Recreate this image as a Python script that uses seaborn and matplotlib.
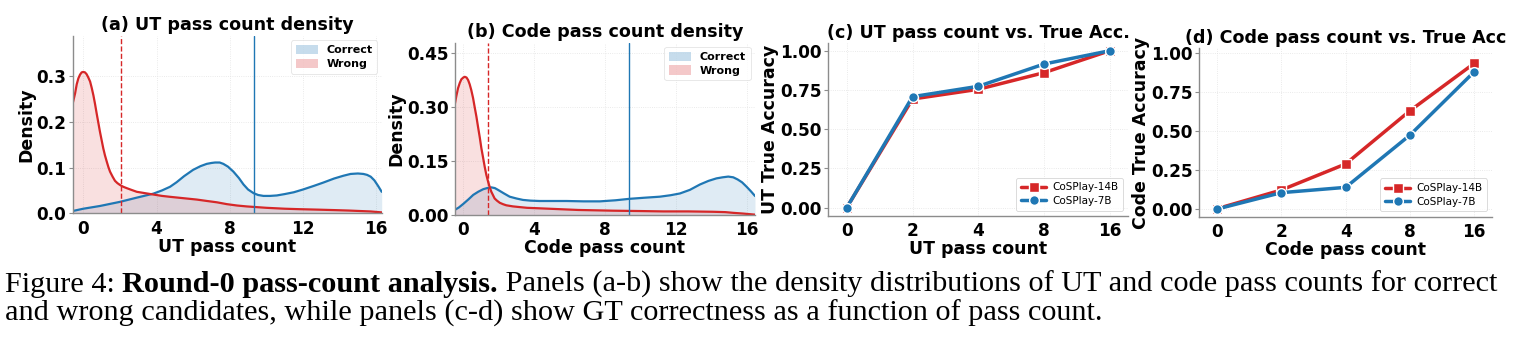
import numpy as np
import pandas as pd
import matplotlib
matplotlib.use("Agg")
import matplotlib.pyplot as plt
import seaborn as sns

# ---------------- data ----------------
# (a) UT pass count density (curve samples)
ut_wrong_x = [-0.58, -0.45, -0.36, -0.27, -0.18, -0.09, 0.0, 0.09, 0.18, 0.27, 0.37, 0.46, 0.55, 0.64,
              0.73, 0.82, 0.91, 1.0, 1.09, 1.18, 1.28, 1.37, 1.46, 1.6, 1.73, 1.86, 2.0, 2.18, 2.37,
              2.64, 2.92, 3.37, 3.83, 4.3, 4.74, 5.47, 6.2, 6.74, 7.3, 7.84, 8.4, 8.93, 10.0, 11.0,
              11.8, 12.8, 13.7, 14.5, 15.1, 15.7, 16.3]
ut_wrong_y = [0.240, 0.262, 0.282, 0.295, 0.303, 0.308, 0.309, 0.308, 0.304, 0.297, 0.288, 0.274, 0.258, 0.239,
              0.218, 0.198, 0.178, 0.160, 0.142, 0.127, 0.113, 0.101, 0.091, 0.080, 0.071, 0.066, 0.062, 0.058, 0.055,
              0.051, 0.047, 0.044, 0.041, 0.038, 0.036, 0.033, 0.030, 0.027, 0.024, 0.020, 0.017, 0.015, 0.012, 0.010,
              0.009, 0.008, 0.007, 0.006, 0.005, 0.004, 0.002]
ut_correct_x = [-0.58, 0.0, 0.91, 2.0, 2.9, 3.83, 4.3, 4.74, 5.1, 5.5, 6.0, 6.4, 6.74, 7.0, 7.2, 7.45, 7.65,
                7.9, 8.2, 8.5, 8.75, 9.0, 9.3, 9.55, 9.84, 10.2, 10.57, 11.0, 11.5, 12.0, 12.6, 13.1,
                13.7, 14.2, 14.6, 15.0, 15.3, 15.5, 15.7, 15.9, 16.1, 16.3]
ut_correct_y = [0.005, 0.010, 0.016, 0.025, 0.034, 0.043, 0.050, 0.058, 0.068, 0.081, 0.095, 0.103, 0.108, 0.110,
                0.111, 0.111, 0.108, 0.102, 0.091, 0.077, 0.063, 0.052, 0.044, 0.040, 0.038, 0.038, 0.039, 0.042,
                0.046, 0.052, 0.060, 0.067, 0.076, 0.082, 0.086, 0.087, 0.086, 0.084, 0.080, 0.072, 0.060, 0.047]
ut_wrong_mean = 2.05
ut_correct_mean = 9.3

# (b) Code pass count density
code_wrong_x = [-0.49, -0.4, -0.3, -0.2, -0.11, 0.0, 0.08, 0.18, 0.27, 0.36, 0.45, 0.55, 0.64, 0.74, 0.83,
                0.93, 1.02, 1.12, 1.21, 1.3, 1.4, 1.49, 1.58, 1.68, 1.77, 1.9, 2.06, 2.25, 2.43, 2.8, 3.19,
                3.6, 4.12, 5.07, 6.5, 8.47, 10.0, 11.3, 12.7, 14.1, 14.8, 15.25, 15.8, 16.48]
code_wrong_y = [0.306, 0.330, 0.353, 0.368, 0.378, 0.383, 0.385, 0.383, 0.376, 0.364, 0.348, 0.326, 0.301, 0.274, 0.246,
                0.216, 0.186, 0.159, 0.134, 0.112, 0.093, 0.078, 0.065, 0.055, 0.046, 0.040, 0.034, 0.030, 0.027, 0.024, 0.022,
                0.020, 0.019, 0.017, 0.014, 0.012, 0.011, 0.010, 0.010, 0.009, 0.008, 0.006, 0.004, 0.001]
code_correct_x = [-0.49, -0.25, 0.0, 0.3, 0.56, 0.85, 1.13, 1.35, 1.58, 1.78, 1.96, 2.3, 2.62, 3.0, 3.37,
                  3.8, 4.31, 5.07, 5.84, 6.8, 7.72, 8.6, 9.38, 10.2, 11.1, 11.7, 12.24, 12.8, 13.37, 13.85,
                  14.3, 14.65, 14.97, 15.25, 15.5, 15.75, 16.0, 16.25, 16.48]
code_correct_y = [0.014, 0.021, 0.031, 0.044, 0.056, 0.065, 0.072, 0.075, 0.077, 0.075, 0.070, 0.060, 0.051, 0.046, 0.042,
                  0.040, 0.039, 0.039, 0.039, 0.038, 0.038, 0.041, 0.045, 0.048, 0.051, 0.055, 0.060, 0.070, 0.085, 0.095,
                  0.102, 0.105, 0.107, 0.105, 0.099, 0.091, 0.079, 0.066, 0.053]
code_wrong_mean = 1.41
code_correct_mean = 9.38

# (c), (d) accuracy vs pass count
pass_counts = ["0", "2", "4", "8", "16"]
ut_acc_14b = [0.0, 0.692, 0.754, 0.860, 1.0]
ut_acc_7b = [0.0, 0.707, 0.773, 0.915, 1.0]
code_acc_14b = [0.004, 0.124, 0.291, 0.632, 0.936]
code_acc_7b = [0.002, 0.107, 0.141, 0.476, 0.882]
models = ["CoSPlay-14B", "CoSPlay-7B"]

caption_prefix = "Figure 4: "
caption_bold = "Round-0 pass-count analysis."
caption_rest1 = " Panels (a-b) show the density distributions of UT and code pass counts for correct"
caption_line2 = "and wrong candidates, while panels (c-d) show GT correctness as a function of pass count."

# ---------------- style ----------------
sns.set_theme(style="whitegrid")
plt.rcParams["font.family"] = ["DejaVu Sans"]
plt.rcParams["text.color"] = "black"
plt.rcParams["axes.labelcolor"] = "black"
plt.rcParams["xtick.labelcolor"] = "black"
plt.rcParams["ytick.labelcolor"] = "black"
RED = "#d62728"
BLUE = "#1f77b4"
W, H = 1525, 343
fig = plt.figure(figsize=(W / 100, H / 100), dpi=100)


def add_ax(l, r, t, b):
    return fig.add_axes([l / W, 1 - b / H, (r - l) / W, (b - t) / H])


def style_ax(ax):
    for s in ["top", "right"]:
        ax.spines[s].set_visible(False)
    for s in ["left", "bottom"]:
        ax.spines[s].set_color("#8c8c8c")
        ax.spines[s].set_linewidth(1.0)
    ax.grid(True, color="#e3e3e3", linewidth=0.6, linestyle=":")
    ax.tick_params(axis="both", which="major", labelsize=12.2, length=3, width=0.8,
                   color="#8c8c8c", labelcolor="black", pad=1.5, left=True, bottom=False)
    for lab in ax.get_xticklabels() + ax.get_yticklabels():
        lab.set_fontweight("bold")


LABEL_FS = 12.5
TITLE_FS = 12.6

# ---------------- (a) & (b) density panels ----------------
def density_panel(ax, wx, wy, cx, cy, wmean, cmean, xlim, ylim, yticks, yfmt, xlabel, title):
    dfc = pd.DataFrame({"x": cx, "y": cy})
    dfw = pd.DataFrame({"x": wx, "y": wy})
    ax.fill_between(dfc["x"], dfc["y"], color=BLUE, alpha=0.14, linewidth=0, label="Correct")
    ax.fill_between(dfw["x"], dfw["y"], color=RED, alpha=0.14, linewidth=0, label="Wrong")
    sns.lineplot(data=dfc, x="x", y="y", ax=ax, color=BLUE, linewidth=1.6, legend=False)
    sns.lineplot(data=dfw, x="x", y="y", ax=ax, color=RED, linewidth=1.6, legend=False)
    ax.axvline(wmean, color=RED, linestyle="--", linewidth=1.0)
    ax.axvline(cmean, color=BLUE, linestyle="-", linewidth=1.0)
    ax.set_xlim(*xlim)
    ax.set_ylim(*ylim)
    ax.set_xticks([0, 4, 8, 12, 16])
    ax.set_yticks(yticks)
    ax.set_yticklabels([yfmt.format(v) for v in yticks])
    ax.set_xlabel(xlabel, fontsize=LABEL_FS, fontweight="bold", labelpad=0)
    ax.set_ylabel("Density", fontsize=LABEL_FS, fontweight="bold", labelpad=1)
    ax.set_title(title, fontsize=TITLE_FS, fontweight="bold", pad=4)
    style_ax(ax)
    leg = ax.legend(loc="upper right", prop={"weight": "bold", "size": 8}, frameon=True,
                    handlelength=2.0, handleheight=0.9, borderpad=0.4, labelspacing=0.3,
                    bbox_to_anchor=(1.0, 1.0), borderaxespad=0.4)
    leg.get_frame().set_edgecolor("#dddddd")
    leg.get_frame().set_linewidth(0.6)
    for h in leg.legend_handles:
        h.set_alpha(0.25)


ax_a = add_ax(72.7, 381.7, 36, 213.3)
density_panel(ax_a, ut_wrong_x, ut_wrong_y, ut_correct_x, ut_correct_y, ut_wrong_mean, ut_correct_mean,
              (-0.58, 16.3), (0, 0.3875), [0.0, 0.1, 0.2, 0.3], "{:.1f}", "UT pass count",
              "(a) UT pass count density")

ax_b = add_ax(455, 755, 42.7, 215)
density_panel(ax_b, code_wrong_x, code_wrong_y, code_correct_x, code_correct_y, code_wrong_mean, code_correct_mean,
              (-0.47, 16.48), (0, 0.48), [0.0, 0.15, 0.30, 0.45], "{:.2f}", "Code pass count",
              "(b) Code pass count density")

# ---------------- (c) & (d) accuracy panels ----------------
def acc_panel(ax, a14, a7, ylim, xlabel, ylabel, title):
    pos = list(range(len(pass_counts)))
    df = pd.DataFrame({
        "pos": pos * 2,
        "acc": list(a14) + list(a7),
        "model": [models[0]] * len(pos) + [models[1]] * len(pos),
    })
    sns.lineplot(data=df, x="pos", y="acc", hue="model", style="model",
                 palette={models[0]: RED, models[1]: BLUE},
                 markers={models[0]: "s", models[1]: "o"}, dashes=False,
                 linewidth=2.5, markersize=7, markeredgecolor="white", markeredgewidth=1.0, ax=ax)
    ax.set_xlim(-0.28, 4.28)
    ax.set_ylim(*ylim)
    ax.set_xticks(pos)
    ax.set_xticklabels(pass_counts)
    ax.set_yticks([0.0, 0.25, 0.5, 0.75, 1.0])
    ax.set_yticklabels(["0.00", "0.25", "0.50", "0.75", "1.00"])
    ax.set_xlabel(xlabel, fontsize=LABEL_FS, fontweight="bold", labelpad=0)
    ax.set_ylabel(ylabel, fontsize=LABEL_FS, fontweight="bold", labelpad=1)
    ax.set_title(title, fontsize=TITLE_FS, fontweight="bold", pad=4)
    style_ax(ax)
    leg = ax.legend(loc="lower right", fontsize=7.5, frameon=True, title=None,
                    handlelength=2.4, handletextpad=0.6, borderpad=0.45, labelspacing=0.35,
                    bbox_to_anchor=(1.0, 0.0), borderaxespad=0.5)
    leg.get_frame().set_edgecolor("#cccccc")
    leg.get_frame().set_linewidth(0.6)


ax_c = add_ax(828.3, 1128.3, 43.3, 216)
acc_panel(ax_c, ut_acc_14b, ut_acc_7b, (-0.053, 1.047), "UT pass count", "UT True Accuracy",
          "(c) UT pass count vs. True Acc.")

ax_d = add_ax(1199, 1492.3, 48.3, 216.7)
acc_panel(ax_d, code_acc_14b, code_acc_7b, (-0.047, 1.032), "Code pass count", "Code True Accuracy",
          "(d) Code pass count vs. True Acc")

# ---------------- caption ----------------
serif = ["Liberation Serif", "DejaVu Serif"]
fig.canvas.draw()
renderer = fig.canvas.get_renderer()

def text_width(s, fs, weight="normal"):
    t = fig.text(0, 0, s, fontsize=fs, family=serif, fontweight=weight)
    w = t.get_window_extent(renderer).width
    t.remove()
    return w

base_fs = 16
w_total = (text_width(caption_prefix, base_fs) + text_width(caption_bold, base_fs, "bold")
           + text_width(caption_rest1, base_fs))
target = 1502 - 5
fs = base_fs * target / w_total

x0 = 5
y1 = H - 292
y2 = H - 321
x = x0
for s, wgt in [(caption_prefix, "normal"), (caption_bold, "bold"), (caption_rest1, "normal")]:
    t = fig.text(x / W, y1 / H, s, fontsize=fs, family=serif, fontweight=wgt, ha="left",
                 va="baseline", color="black")
    x += t.get_window_extent(renderer).width
fig.text(x0 / W, y2 / H, caption_line2, fontsize=fs, family=serif, ha="left", va="baseline", color="black")

fig.savefig("out.png", dpi=100, facecolor="white")
